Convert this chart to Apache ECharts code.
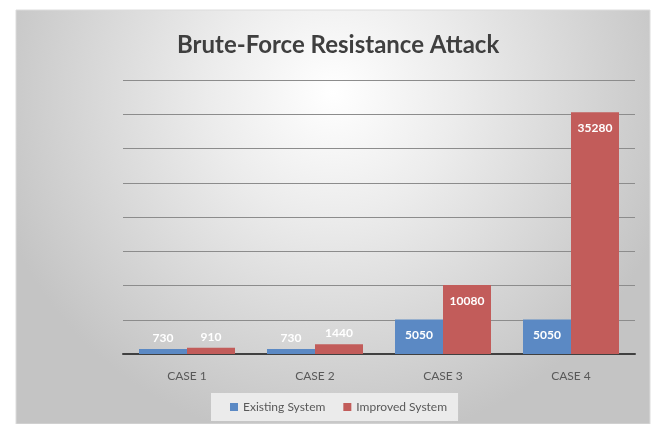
<!DOCTYPE html>
<html><head><meta charset="utf-8">
<script src="https://cdn.jsdelivr.net/npm/echarts@6/dist/echarts.min.js"></script>
<style>html,body{margin:0;padding:0;background:#fff}#c{width:654px;height:424px}</style>
</head><body><div id="c"></div>
<script>
const categories = ['CASE 1', 'CASE 2', 'CASE 3', 'CASE 4'];
const existingSystem = [730, 730, 5050, 5050];
const improvedSystem = [910, 1440, 10080, 35280];
const seriesNames = ['Existing System', 'Improved System'];

const chart = echarts.init(document.getElementById('c'));
function mk(vals) {
  return vals.map(v => ({
    value: v,
    label: v < 3000 ? { position: 'top', distance: 5 } : { position: 'insideTop', distance: 10 }
  }));
}
const lbl = { show: true, color: '#ffffff', fontWeight: 'bold', fontSize: 12, fontFamily: 'Lato' };
chart.setOption({
  animation: false,
  graphic: [{
    type: 'rect', z: -100, silent: true,
    shape: { x: 16, y: 10, width: 634, height: 414 },
    style: {
      fill: new echarts.graphic.RadialGradient(0.5, 0.2, 0.85, [
        { offset: 0, color: '#ffffff' },
        { offset: 0.35, color: '#ececec' },
        { offset: 1, color: '#c4c4c4' }
      ]),
      stroke: '#dcdcdc', lineWidth: 1
    }
  }],
  title: {
    text: 'Brute-Force Resistance Attack',
    left: 172, top: 28,
    textStyle: { fontFamily: 'Lato', fontWeight: 'bold', fontSize: 24, color: '#3f3f3f' }
  },
  legend: {
    data: seriesNames, bottom: 3, left: 211,
    backgroundColor: 'rgba(238,238,238,0.9)',
    padding: [8, 11, 8, 19],
    itemWidth: 8, itemHeight: 8, itemGap: 18, icon: 'rect',
    textStyle: { fontFamily: 'Lato', fontSize: 12, color: '#595959' }
  },
  grid: { left: 123, right: 19, top: 80, bottom: 70, containLabel: false },
  xAxis: {
    type: 'category', data: categories,
    axisLine: { lineStyle: { color: '#404040', width: 2 } },
    axisTick: { show: false },
    axisLabel: { fontFamily: 'Lato', fontSize: 12, color: '#595959', margin: 16 }
  },
  yAxis: {
    type: 'value', min: 0, max: 40000, interval: 5000,
    axisLabel: { show: false }, axisLine: { show: false }, axisTick: { show: false },
    splitLine: { lineStyle: { color: '#8c8c8c', width: 1 } }
  },
  series: [
    { name: seriesNames[0], type: 'bar', data: mk(existingSystem), barGap: '0%', barCategoryGap: '25%',
      itemStyle: { color: '#5b89c4' }, label: lbl },
    { name: seriesNames[1], type: 'bar', data: mk(improvedSystem),
      itemStyle: { color: '#c25c5a' }, label: lbl }
  ]
});
</script></body></html>
